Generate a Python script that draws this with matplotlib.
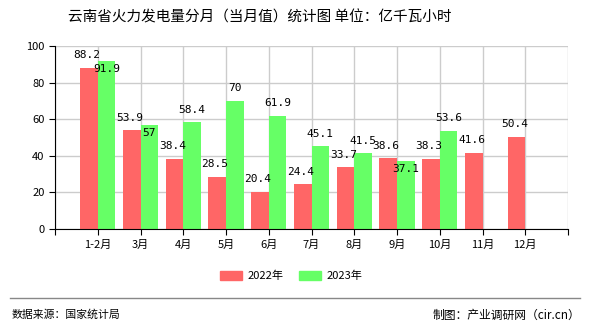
import matplotlib
matplotlib.use("Agg")
import matplotlib.pyplot as plt
import numpy as np

plt.rcParams['font.family'] = ['Noto Sans CJK SC', 'DejaVu Sans']

categories = ["1-2月", "3月", "4月", "5月", "6月", "7月", "8月", "9月", "10月", "11月", "12月"]
values_2022 = [88.2, 53.9, 38.4, 28.5, 20.4, 24.4, 33.7, 38.6, 38.3, 41.6, 50.4]
values_2023 = [91.9, 57, 58.4, 70, 61.9, 45.1, 41.5, 37.1, 53.6]
series_names = ["2022年", "2023年"]
yticks = [0, 20, 40, 60, 80, 100]

# label vertical offsets (points) for 2023 labels: negative = inside bar
offs_2023 = [-6, -6, 9, 9, 9, 9, 9, -6, 9]

red = "#FF6666"
green = "#66FF66"

fig = plt.figure(figsize=(5.9, 3.3), dpi=100)
ax = fig.add_axes([55/590, 1-229/330, (568-55)/590, (229-46)/330])

x1 = np.arange(1, len(values_2022) + 1)
x2 = np.arange(1, len(values_2023) + 1)
w = 0.41
ax.bar(x1 - w/2, values_2022, width=w, color=red, zorder=2)
ax.bar(x2 + w/2, values_2023, width=w, color=green, zorder=2)

for xi, v in zip(x1, values_2022):
    ax.annotate(f"{v:g}", (xi - w/2 - 0.05, v), xytext=(0, 9), textcoords="offset points",
                ha="center", va="center", fontsize=8, family="DejaVu Sans Mono", zorder=4)
for xi, v, o in zip(x2, values_2023, offs_2023):
    ax.annotate(f"{v:g}", (xi + w/2, v), xytext=(0, o), textcoords="offset points",
                ha="center", va="center", fontsize=8, family="DejaVu Sans Mono", zorder=4)

ax.set_xlim(0, 12)
ax.set_ylim(0, 100)
ax.set_yticks(yticks)
ax.set_xticks(np.arange(0, 13))
ax.set_xticklabels([""] + categories + [""])
ax.tick_params(axis='both', labelsize=8, length=4, direction='out', color='black')
ax.grid(True, color="#cccccc", linewidth=1, zorder=0)
ax.set_axisbelow(True)
for s in ["top", "right"]:
    ax.spines[s].set_visible(False)
ax.spines["left"].set_color("black")
ax.spines["bottom"].set_color("black")

fig.text(260/590, 1-17/330, "云南省火力发电量分月（当月值）统计图 单位：亿千瓦小时",
         ha="center", va="center", fontsize=10.5)

from matplotlib.patches import Patch
handles = [Patch(color=red), Patch(color=green)]
fig.legend(handles, series_names, loc="center", bbox_to_anchor=(291/590, 1-276/330),
           ncol=2, frameon=False, fontsize=8, handlelength=2.0, handleheight=0.9,
           columnspacing=1.4, handletextpad=0.45)

fig.add_artist(plt.Line2D([10/590, 580/590], [1-298/330, 1-298/330], color="#888888", linewidth=1))
fig.text(12/590, 1-315/330, "数据来源：国家统计局", ha="left", va="center", fontsize=7.8)
fig.text(580/590, 1-315/330, "制图：产业调研网（cir.cn）", ha="right", va="center", fontsize=8.5)

fig.savefig("out.png", dpi=100)
